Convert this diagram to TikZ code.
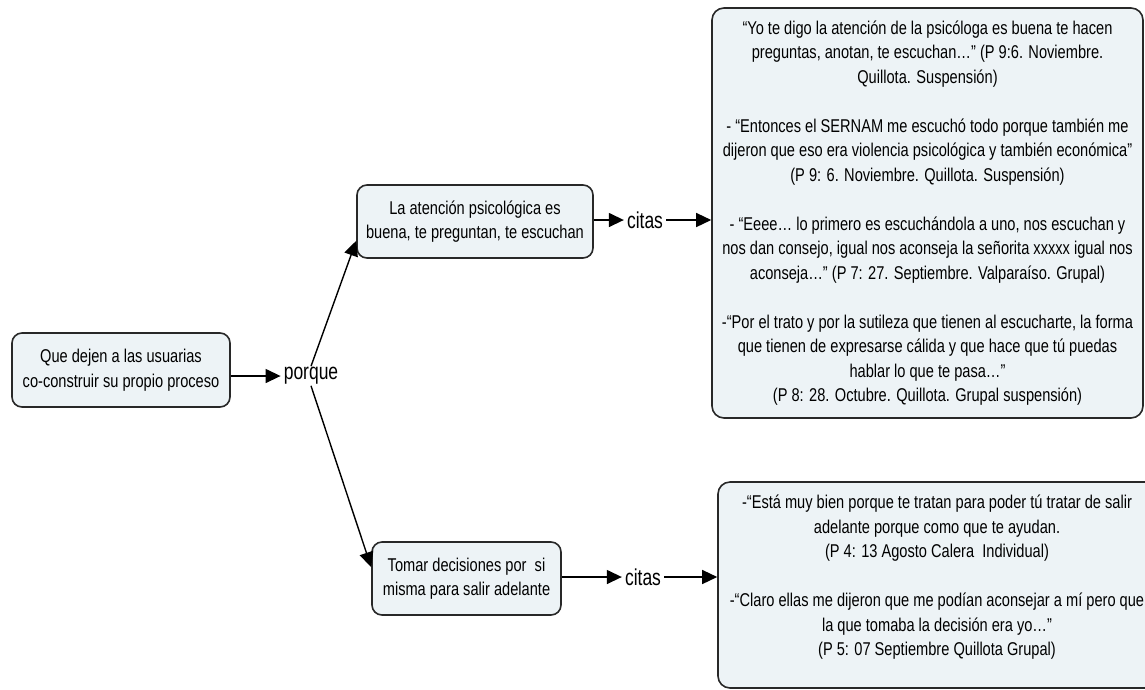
\documentclass[tikz,border=0pt]{standalone}
\usepackage{fontspec}
\setmainfont{Liberation Sans}[FakeStretch=0.79]
\newfontfamily\linkfont{Liberation Sans}[FakeStretch=0.76]
\usetikzlibrary{arrows.meta}
\definecolor{boxfill}{RGB}{237,243,246}
\definecolor{boxline}{RGB}{40,40,40}
\begin{document}
\begin{tikzpicture}[x=1pt,y=-1pt,
  box/.style={draw=boxline, fill=boxfill, line width=1.6pt, rounded corners=10pt,
    align=center, inner sep=0pt, font=\fontsize{18.5}{24.5}\selectfont},
  plain/.style={align=center, inner sep=0pt, font=\fontsize{18.5}{24.5}\selectfont},
  link/.style={inner xsep=3pt, inner ysep=1pt, font=\linkfont\fontsize{23}{26}\selectfont},
  conn/.style={draw=black, line width=1.4pt, -{Triangle[length=15pt,width=14pt]}},
]
\useasboundingbox (0,0) rectangle (1145,689);

\node[box, minimum width=218pt, minimum height=74pt] (A) at (121,370)
  {Que dejen a las usuarias\\co-construir su propio proceso};
\node[link] (porque) at (311,376) {porque};
\node[box, minimum width=236pt, minimum height=73pt] (B) at (475,221.5)
  {La atención psicológica es\\buena, te preguntan, te escuchan};
\node[box, minimum width=189pt, minimum height=73pt] (C) at (466.5,578.5)
  {Tomar decisiones por\ \ si\\misma para salir adelante};
\node[link] (citas1) at (645,220) {citas};
\node[link] (citas2) at (643,577) {citas};

\node[box, rounded corners=12pt, minimum width=431pt, minimum height=410pt] (D) at (927.5,213)
  {“Yo te digo la atención de la psicóloga es buena te hacen\\
   preguntas, anotan, te escuchan…” (P 9:6. Noviembre.\\
   Quillota. Suspensión)\\[24.5pt]
   - “Entonces el SERNAM me escuchó todo porque también me\\
   dijeron que eso era violencia psicológica y también económica”\\
   (P 9: 6. Noviembre. Quillota. Suspensión)\\[24.5pt]
   - “Eeee… lo primero es escuchándola a uno, nos escuchan y\\
   nos dan consejo, igual nos aconseja la señorita xxxxx igual nos\\
   aconseja…” (P 7: 27. Septiembre. Valparaíso. Grupal)\\[24.5pt]
   -“Por el trato y por la sutileza que tienen al escucharte, la forma\\
   que tienen de expresarse cálida y que hace que tú puedas\\
   hablar lo que te pasa…”\\
   (P 8: 28. Octubre. Quillota. Grupal suspensión)};

\node[box, rounded corners=12pt, minimum width=447pt, minimum height=206pt] (E) at (941.5,585) {};
\node[plain] (Etext) at (937,577.5)
  {-“Está muy bien porque te tratan para poder tú tratar de salir\\
   adelante porque como que te ayudan.\\
   (P 4: 13 Agosto Calera\ \ Individual)\\[24.5pt]
   -“Claro ellas me dijeron que me podían aconsejar a mí pero que\\
   la que tomaba la decisión era yo…”\\
   (P 5: 07 Septiembre Quillota Grupal)};

\draw[conn] (A.east |- porque) -- (porque.west);
\draw[conn] (porque.north) -- ([yshift=18pt]B.south west);
\draw[conn] (porque.south) -- ([yshift=-26pt]C.north west);
\draw[conn] (B.east |- citas1) -- (citas1.west);
\draw[conn] (citas1.east) -- (citas1 -| D.west);
\draw[conn] (C.east |- citas2) -- (citas2.west);
\draw[conn] (citas2.east) -- (citas2 -| E.west);
\end{tikzpicture}
\end{document}
